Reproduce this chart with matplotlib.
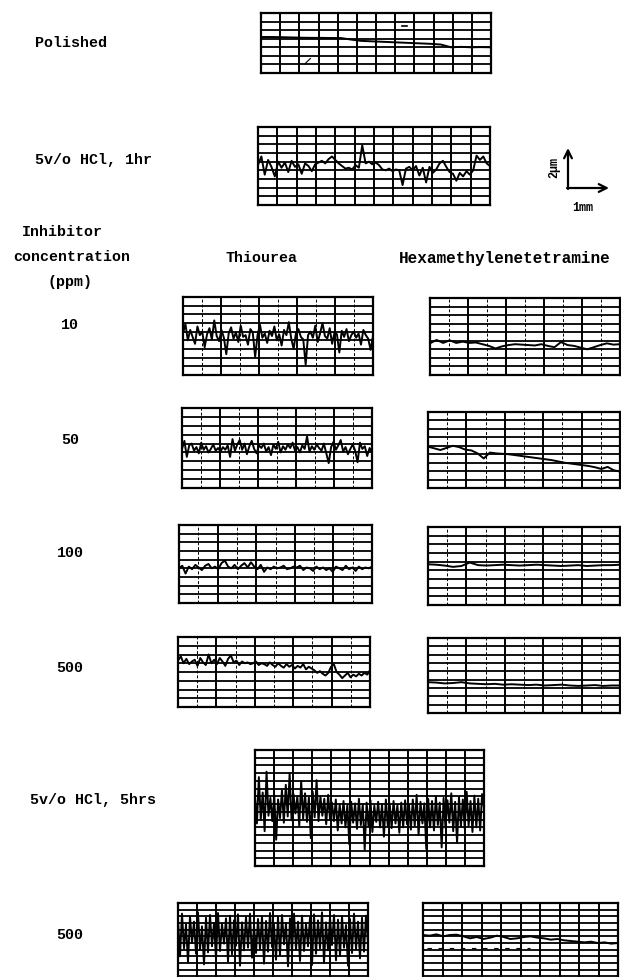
"""
Surface profiles of mild steel after pickling in 5 v/o HCl,
with and without thiourea / hexamethylenetetramine inhibitors.
Each trace is drawn on a strip of chart-recorder grid paper.
"""

import matplotlib
matplotlib.use('Agg')
import matplotlib.pyplot as plt
import numpy as np

# ─────────────────────────────────────────────
# Profile traces (height in grid divisions, left -> right)
# ─────────────────────────────────────────────
polished = [4.2, 4.2, 4.18, 4.15, 4.12, 4.1, 4.1, 4.08, 4.08, 3.9, 3.75, 3.7,
            3.65, 3.6, 3.55, 3.5, 3.45, 3.4, 3.32, 3.0, 3.05, 3.0, 3.02, 3.0]

hcl_1hr = [4.6, 5.6, 3.5, 5.2, 4.4, 3.3, 5.0, 4.3, 4.9, 3.8, 5.1, 4.4, 4.7, 3.6,
           4.8, 4.5, 3.9, 4.7, 4.9, 5.1, 4.8, 5.3, 5.6, 5.2, 4.8, 4.5, 4.2, 4.3,
           4.1, 4.6, 4.3, 6.9, 4.8, 5.0, 4.7, 4.9, 4.6, 4.1, 4.0, 4.2, 3.9, 4.1,
           4.0, 2.3, 4.2, 4.4, 4.0, 4.5, 3.4, 4.3, 2.6, 4.4, 3.7, 4.1, 4.8, 5.1,
           4.4, 3.8, 3.6, 2.8, 3.7, 3.3, 3.9, 3.5, 4.0, 5.7, 5.2, 5.6, 4.8, 4.5]

thio_10 = [4.8, 5.9, 4.0, 5.2, 4.4, 3.6, 5.6, 4.6, 5.0, 3.2, 4.7, 5.4, 4.1, 6.3,
           4.5, 3.9, 5.2, 4.3, 2.4, 4.8, 5.5, 4.2, 4.9, 3.8, 5.7, 4.4, 4.6, 3.5,
           5.3, 4.9, 2.1, 4.6, 5.8, 4.3, 4.8, 3.7, 5.1, 4.5, 5.6, 4.0, 4.7, 3.4,
           5.2, 4.6, 6.1, 4.2, 3.0, 4.9, 5.3, 4.4, 4.1, 1.2, 4.6, 5.0, 4.3, 5.7,
           3.8, 4.8, 6.0, 4.5, 4.2, 5.4, 3.6, 4.9, 4.7, 2.6, 5.1, 4.4, 5.3, 3.9,
           4.6, 5.0, 4.3, 4.8, 3.5, 5.2, 4.6, 4.2, 2.9, 4.5]

hexa_10 = [3.7, 4.1, 3.75, 4.05, 3.75, 3.9, 3.75, 3.8, 3.6, 3.4, 3.1, 3.35,
           3.5, 3.6, 3.55, 3.5, 3.45, 3.6, 3.4, 3.25, 3.85, 3.5, 3.4, 3.2,
           3.0, 3.25, 3.5, 3.7, 3.55, 3.6]

thio_50 = [4.4, 5.3, 3.5, 4.8, 5.0, 4.2, 4.6, 3.9, 5.1, 4.3, 4.7, 4.0, 4.4, 4.9,
           4.2, 4.5, 4.1, 4.6, 4.3, 4.8, 3.5, 5.5, 4.2, 4.9, 5.4, 4.3, 5.0, 3.8,
           4.7, 5.3, 4.4, 3.9, 4.8, 4.5, 5.0, 4.1, 4.6, 3.7, 4.9, 4.4, 5.2, 4.0,
           4.7, 4.3, 4.9, 4.5, 5.1, 4.2, 4.6, 4.0, 4.8, 4.4, 5.8, 4.1, 4.7, 4.3,
           4.9, 4.5, 4.2, 5.0, 3.9, 2.8, 4.6, 5.2, 4.3, 4.8, 5.4, 4.1, 4.6, 3.8,
           4.4, 4.9, 4.2, 2.9, 5.1, 4.4, 4.7, 3.6, 4.5, 4.0]

hexa_50 = [4.9, 4.7, 4.5, 4.75, 5.0, 4.85, 4.55, 4.45, 4.1, 3.5, 4.2, 4.1,
           4.05, 4.0, 3.9, 3.8, 3.7, 3.6, 3.5, 3.4, 3.3, 3.15, 3.0, 2.9,
           2.8, 2.7, 2.6, 2.45, 2.25, 2.5, 2.1, 1.95]

thio_100 = [4.0, 4.3, 3.4, 4.2, 3.9, 4.4, 4.1, 3.8, 4.3, 4.5, 4.0, 4.2, 3.9, 4.6,
            4.9, 4.2, 4.0, 4.4, 3.9, 4.3, 4.6, 4.1, 4.7, 4.2, 3.9, 4.4, 3.6, 4.1,
            3.9, 4.2, 4.0, 4.1, 4.3, 3.9, 4.0, 4.2, 4.1, 4.3, 3.8, 4.1, 4.0, 3.7,
            4.2, 3.9, 4.1, 3.8, 4.0, 3.6, 4.2, 4.0, 3.8, 4.3, 3.9, 4.1, 3.7, 4.2,
            3.9, 4.1, 4.0, 4.2]

hexa_100 = [4.7, 4.65, 4.55, 4.4, 4.5, 4.9, 4.6, 4.55, 4.6, 4.65, 4.6, 4.55,
            4.6, 4.65, 4.6, 4.55, 4.5, 4.55, 4.6, 4.5, 4.55, 4.6, 4.6, 4.65]

thio_500 = [5.3, 5.8, 5.0, 5.5, 4.9, 5.2, 5.4, 4.7, 5.6, 5.1, 4.8, 6.0, 5.0, 5.4,
            4.9, 5.6, 5.2, 4.7, 5.5, 5.9, 5.1, 5.3, 4.8, 5.2, 5.0, 5.1, 4.9, 5.0,
            5.2, 4.8, 5.0, 4.9, 4.7, 5.1, 4.8, 4.6, 5.0, 4.7, 4.5, 4.9, 4.6, 4.8,
            4.4, 4.7, 4.5, 4.9, 4.3, 4.6, 4.4, 4.2, 3.9, 4.1, 3.8, 3.6, 3.9, 4.6,
            4.9, 4.0, 3.7, 3.3, 3.6, 3.9, 3.4, 3.7, 3.5, 3.8, 3.6, 3.9, 3.7, 4.2]

hexa_500 = [3.7, 3.65, 3.55, 3.6, 3.7, 3.55, 3.5, 3.45, 3.5, 3.4, 3.45, 3.4,
            3.35, 3.4, 3.3, 3.35, 3.4, 3.3, 3.25, 3.3, 3.35, 3.25, 3.3, 3.3]

hcl_5hr = [9.0, 5.5, 11.5, 6.0, 9.5, 4.5, 12.2, 6.5, 8.8, 5.8, 9.2, 3.4, 8.6, 6.2,
           9.8, 5.6, 10.5, 6.4, 12.0, 5.9, 9.3, 6.8, 9.0, 5.2, 11.0, 6.1, 9.4, 5.7,
           8.9, 3.6, 9.6, 6.3, 11.1, 5.8, 9.0, 6.5, 8.7, 5.4, 9.2, 6.0,
           8.2, 5.8, 8.6, 4.6, 8.0, 5.5, 8.4, 5.0, 7.9, 2.8, 8.3, 5.6, 8.1, 4.8,
           8.7, 5.3, 8.0, 2.1, 8.2, 5.1, 8.5, 4.4, 7.8, 5.7, 8.3, 5.0, 8.0, 3.8,
           8.6, 5.2, 8.1, 4.9, 8.4, 5.5, 7.9, 4.3, 8.2, 5.0, 8.5, 5.4,
           8.0, 4.7, 8.6, 5.2, 9.2, 4.0, 8.3, 5.5, 8.1, 2.2, 8.7, 5.0, 8.4, 4.6,
           9.0, 5.3, 8.2, 2.4, 8.8, 4.9, 8.5, 5.6, 9.4, 4.5, 8.3, 3.0, 8.9, 5.1,
           8.6, 4.8, 9.6, 5.2, 8.4, 4.4, 9.1, 5.0, 8.7, 4.6, 9.3, 7.5]

thio_500_5hr = [9.5, 4.0, 10.4, 5.2, 8.8, 3.1, 10.0, 6.0, 9.2, 4.4, 10.6, 5.0,
                8.5, 2.8, 9.8, 4.6, 10.2, 5.5, 9.0, 3.6, 10.5, 4.8, 8.9, 5.9,
                9.7, 3.2, 10.1, 4.3, 9.4, 5.6, 10.3, 2.6, 9.1, 4.9, 9.9, 5.3,
                10.4, 3.8, 8.7, 4.5, 9.6, 5.1, 10.0, 2.9, 9.3, 4.7, 10.5, 5.4,
                8.8, 3.5, 9.9, 4.2, 10.2, 5.8, 9.0, 2.5, 9.7, 4.6, 10.4, 5.0,
                9.2, 3.3, 10.1, 4.8, 8.9, 5.5, 9.8, 2.7, 10.3, 4.4, 9.4, 5.2,
                10.6, 3.0, 9.1, 4.9, 9.9, 5.7, 10.2, 3.4, 9.5, 4.1, 10.0, 5.3,
                8.7, 2.6, 9.6, 4.5, 10.4, 5.1, 9.2, 3.7, 9.8, 4.7, 10.1, 6.0]

hexa_500_5hr = [7.2, 7.1, 7.3, 7.0, 7.2, 7.25, 7.0, 6.7, 6.9, 6.6, 6.8, 7.1,
                6.9, 6.6, 6.7, 6.9, 7.0, 6.8, 6.7, 6.5, 6.6, 6.4, 6.3, 6.2,
                6.1, 6.2, 6.0, 6.1, 5.9, 6.0]

# ─────────────────────────────────────────────
# Chart strips: (trace, x0, x1, y0, y1 in px, rows, columns, light minors)
# ─────────────────────────────────────────────
W, H = 621, 977
PANELS = [
    (polished,     261, 491,  13,  73,  7, 12, False),
    (hcl_1hr,      258, 490, 127, 205,  9, 12, False),
    (thio_10,      183, 373, 297, 375,  9, 10, True),
    (hexa_10,      430, 620, 298, 375,  9, 10, True),
    (thio_50,      182, 372, 408, 488,  9, 10, True),
    (hexa_50,      428, 620, 412, 488,  9, 10, True),
    (thio_100,     179, 372, 525, 603,  9, 10, True),
    (hexa_100,     428, 620, 527, 605,  9, 10, True),
    (thio_500,     178, 370, 637, 707,  8, 10, True),
    (hexa_500,     428, 620, 638, 713,  9, 10, True),
    (hcl_5hr,      255, 484, 750, 866, 15, 12, False),
    (thio_500_5hr, 178, 368, 903, 983, 12, 10, False),
    (hexa_500_5hr, 423, 618, 903, 983, 12, 10, False),
]

FONT = dict(family='Liberation Mono', fontweight='bold', fontsize=10.8,
            color='black')


def draw_strip(fig, trace, x0, x1, y0, y1, rows, cols, light):
    """One piece of recorder paper with its profile trace."""
    ax = fig.add_axes([x0 / W, 1 - y1 / H, (x1 - x0) / W, (y1 - y0) / H])
    ax.set_xlim(0, 1)
    ax.set_ylim(0, rows)
    ax.set_xticks([])
    ax.set_yticks([])
    for s in ax.spines.values():
        s.set_linewidth(1.6)

    for r in range(1, rows):
        ax.axhline(r, color='black', lw=1.3, zorder=1)
    for c in range(1, cols):
        if light and c % 2 == 1:
            ax.axvline(c / cols, color='black', lw=0.7, ls=(0, (3, 2)),
                       zorder=1)
        else:
            ax.axvline(c / cols, color='black', lw=1.4, zorder=1)

    xs = np.linspace(0, 1, len(trace))
    ax.plot(xs, trace, color='black', lw=1.4, zorder=3)
    return ax


if __name__ == '__main__':
    fig = plt.figure(figsize=(W / 100, H / 100), dpi=100)
    fig.patch.set_facecolor('white')

    # background axes in pixel units for the labels and scale bar
    bg = fig.add_axes([0, 0, 1, 1])
    bg.set_xlim(0, W)
    bg.set_ylim(H, 0)
    bg.axis('off')

    axes = [draw_strip(fig, *p) for p in PANELS]

    # stray marks on the polished strip
    axes[0].plot([0.19, 0.215], [1.05, 1.7], color='black', lw=0.8)
    axes[0].plot([0.615, 0.635], [5.45, 5.45], color='black', lw=1.2)
    # faint second pen line on the last strip
    axes[12].plot([0.02, 0.55], [5.25, 5.25], color='black', lw=0.8,
                  ls=(0, (4, 6)))

    # row / column labels
    bg.text(35, 43, 'Polished', ha='left', va='center', **FONT)
    bg.text(35, 160, '5v/o HCl, 1hr', ha='left', va='center', **FONT)
    bg.text(62, 232, 'Inhibitor', ha='center', va='center', **FONT)
    bg.text(72, 257, 'concentration', ha='center', va='center', **FONT)
    bg.text(70, 282, '(ppm)', ha='center', va='center', **FONT)
    bg.text(262, 258, 'Thiourea', ha='center', va='center', **FONT)
    bg.text(505, 258, 'Hexamethylenetetramine', ha='center', va='center',
            **{**FONT, 'fontsize': 11.5})
    for lab, y in [('10', 325), ('50', 440), ('100', 553), ('500', 668),
                   ('500', 935)]:
        bg.text(70, y, lab, ha='center', va='center', **FONT)
    bg.text(30, 800, '5v/o HCl, 5hrs', ha='left', va='center', **FONT)

    # scale bar
    arrow = dict(arrowstyle='->', color='black', lw=1.6, mutation_scale=14,
                 shrinkA=0, shrinkB=0)
    bg.annotate('', xy=(568, 148), xytext=(568, 189), arrowprops=arrow)
    bg.annotate('', xy=(609, 188), xytext=(567, 188), arrowprops=arrow)
    bg.text(554, 168, '2μm', ha='center', va='center', rotation=90,
            family='Liberation Mono', fontweight='bold', fontsize=8.5)
    bg.text(583, 208, '1mm', ha='center', va='center',
            family='Liberation Mono', fontweight='bold', fontsize=8.5)

    fig.savefig('out.png', dpi=100, facecolor='white')
    plt.close(fig)
